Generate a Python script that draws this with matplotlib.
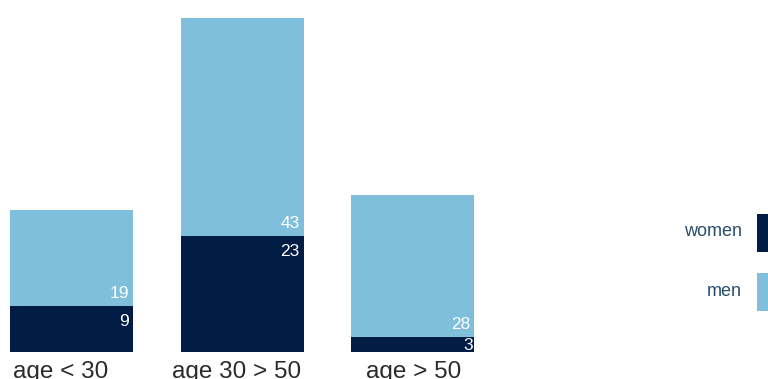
import matplotlib.pyplot as plt
from matplotlib.patches import Rectangle
from matplotlib import transforms

plt.rcParams['font.family'] = ['Liberation Sans', 'DejaVu Sans']

categories = ['age < 30', 'age 30 > 50', 'age > 50']
women = [9, 23, 3]
men = [19, 43, 28]

navy = '#011c45'
light = '#80bfdc'

W, H = 768, 379
fig = plt.figure(figsize=(W / 100, H / 100), dpi=100)

# axes placed in pixel units: baseline at y=352, top of tallest bar at y=18
step = 170.5
bar_w = 123 / step
left_px, right_px = 0, 520
ax = fig.add_axes([left_px / W, (H - 352) / H, (right_px - left_px) / W, (352 - 18) / H])
x0 = -bar_w / 2 - 10 / step
ax.set_xlim(x0, x0 + (right_px - left_px) / step)
ax.set_ylim(0, max(w + m for w, m in zip(women, men)))
px_per_unit = (352 - 18) / ax.get_ylim()[1]

xs = range(len(categories))
ax.bar(xs, women, width=bar_w, color=navy, linewidth=0)
ax.bar(xs, men, width=bar_w, bottom=women, color=light, linewidth=0)

for x, w, m in zip(xs, women, men):
    xr = x + bar_w / 2
    up = transforms.offset_copy(ax.transData, fig=fig, x=-4, y=5, units='dots')
    ax.text(xr, w, str(m), transform=up, ha='right', va='bottom',
            color='white', fontsize=12.5)
    if w * px_per_unit > 30:
        down = transforms.offset_copy(ax.transData, fig=fig, x=-4, y=-8, units='dots')
        ax.text(xr, w, str(w), transform=down, ha='right', va='top',
                color='white', fontsize=12.5)
    else:
        # short segment: keep the label inside the bar
        inside = transforms.offset_copy(ax.transData, fig=fig, x=-1, y=2, units='dots')
        ax.text(xr, 0, str(w), transform=inside, ha='right', va='baseline',
                color='white', fontsize=12.5)

ax.set_xticks(list(xs))
ax.set_xticklabels(categories, fontsize=17.5, color='#2b2b2b')
ax.tick_params(axis='x', length=0, pad=6.5)
# category labels sit a little left of the bar centres
for lbl, dx in zip(ax.get_xticklabels(), [-11, -5, 1]):
    lbl.set_transform(lbl.get_transform() + transforms.Affine2D().translate(dx, 0))
ax.set_yticks([])
for s in ax.spines.values():
    s.set_visible(False)

# legend on the right, squares running off the edge
for label, color, top in [('women', navy, 214), ('men', light, 273)]:
    fig.patches.append(Rectangle((757 / W, (H - top - 38) / H), 20 / W, 38 / H,
                                 transform=fig.transFigure, color=color, linewidth=0))
    fig.text(742 / W, (H - top - 18) / H, label, ha='right', va='center',
             fontsize=13, color='#2a4d6e')

fig.savefig('out.png', dpi=100)
